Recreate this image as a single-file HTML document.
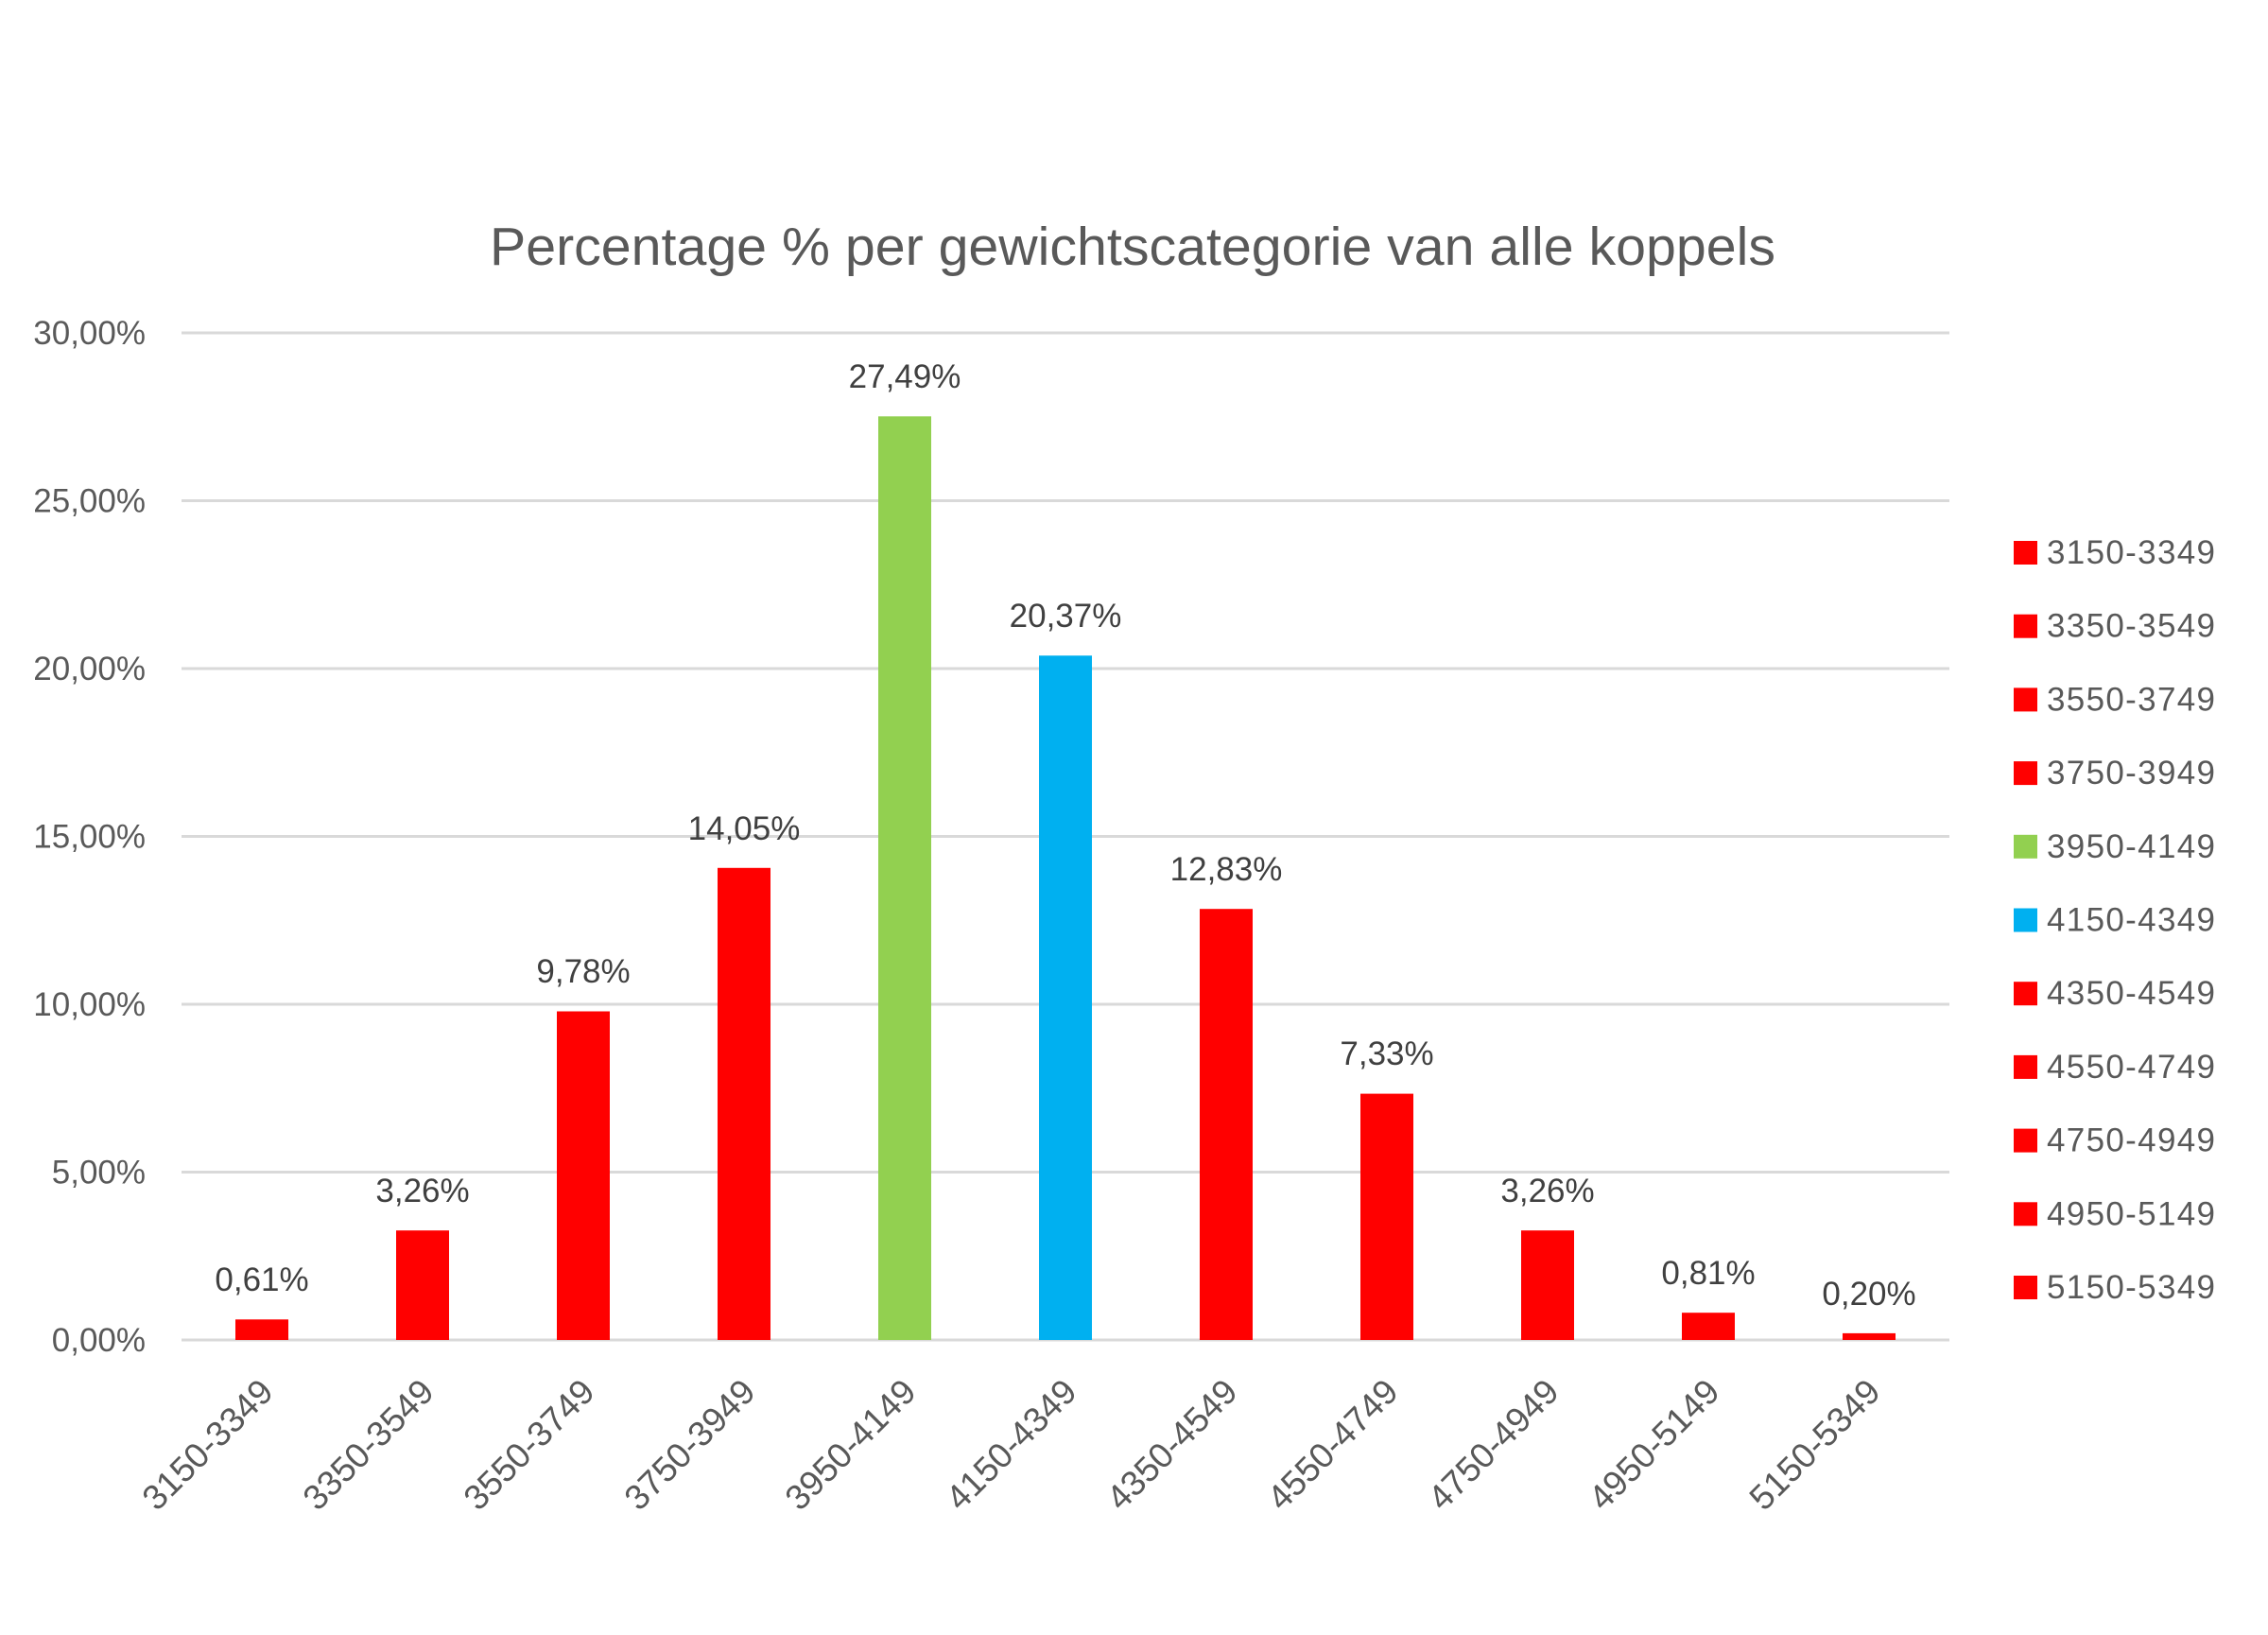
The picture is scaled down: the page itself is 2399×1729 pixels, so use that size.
<!DOCTYPE html>
<html><head><meta charset="utf-8"><style>
html,body{margin:0;padding:0;background:#fff;}
svg{display:block;}
text{font-family:"Liberation Sans",sans-serif;fill:#595959;}
</style></head><body>
<svg width="2399" height="1729" viewBox="0 0 2399 1729" xmlns="http://www.w3.org/2000/svg">
<rect width="2399" height="1729" fill="#fff"/>
<text x="1198" y="280" font-size="57" text-anchor="middle" textLength="1360" lengthAdjust="spacingAndGlyphs">Percentage % per gewichtscategorie van alle koppels</text>
<g stroke="#D9D9D9" stroke-width="3">
<line x1="192" y1="352" x2="2062" y2="352"/>
<line x1="192" y1="529.5" x2="2062" y2="529.5"/>
<line x1="192" y1="707" x2="2062" y2="707"/>
<line x1="192" y1="884.5" x2="2062" y2="884.5"/>
<line x1="192" y1="1062" x2="2062" y2="1062"/>
<line x1="192" y1="1239.5" x2="2062" y2="1239.5"/>
<line x1="192" y1="1417" x2="2062" y2="1417"/>
</g>
<g font-size="35" text-anchor="end">
<text x="154" y="364">30,00%</text>
<text x="154" y="541.5">25,00%</text>
<text x="154" y="719">20,00%</text>
<text x="154" y="896.5">15,00%</text>
<text x="154" y="1074">10,00%</text>
<text x="154" y="1251.5">5,00%</text>
<text x="154" y="1429">0,00%</text>
</g>
<g>
<rect x="249" y="1395.3" width="56" height="21.7" fill="#FF0000"/>
<rect x="419" y="1301.2" width="56" height="115.8" fill="#FF0000"/>
<rect x="589" y="1069.5" width="56" height="347.5" fill="#FF0000"/>
<rect x="759" y="917.8" width="56" height="499.2" fill="#FF0000"/>
<rect x="929" y="440.3" width="56" height="976.7" fill="#92D050"/>
<rect x="1099" y="693.3" width="56" height="723.7" fill="#00B0F0"/>
<rect x="1269" y="961.2" width="56" height="455.8" fill="#FF0000"/>
<rect x="1439" y="1156.6" width="56" height="260.4" fill="#FF0000"/>
<rect x="1609" y="1301.2" width="56" height="115.8" fill="#FF0000"/>
<rect x="1779" y="1388.2" width="56" height="28.8" fill="#FF0000"/>
<rect x="1949" y="1409.9" width="56" height="7.1" fill="#FF0000"/>
</g>
<g font-size="35" text-anchor="middle">
<text x="277" y="1365" style="fill:#404040">0,61%</text>
<text x="447" y="1271" style="fill:#404040">3,26%</text>
<text x="617" y="1039" style="fill:#404040">9,78%</text>
<text x="787" y="888" style="fill:#404040">14,05%</text>
<text x="957" y="410" style="fill:#404040">27,49%</text>
<text x="1127" y="663" style="fill:#404040">20,37%</text>
<text x="1297" y="931" style="fill:#404040">12,83%</text>
<text x="1467" y="1126" style="fill:#404040">7,33%</text>
<text x="1637" y="1271" style="fill:#404040">3,26%</text>
<text x="1807" y="1358" style="fill:#404040">0,81%</text>
<text x="1977" y="1380" style="fill:#404040">0,20%</text>
</g>
<g font-size="37" text-anchor="end">
<text transform="translate(291,1474) rotate(-45)">3150-3349</text>
<text transform="translate(461,1474) rotate(-45)">3350-3549</text>
<text transform="translate(631,1474) rotate(-45)">3550-3749</text>
<text transform="translate(801,1474) rotate(-45)">3750-3949</text>
<text transform="translate(971,1474) rotate(-45)">3950-4149</text>
<text transform="translate(1141,1474) rotate(-45)">4150-4349</text>
<text transform="translate(1311,1474) rotate(-45)">4350-4549</text>
<text transform="translate(1481,1474) rotate(-45)">4550-4749</text>
<text transform="translate(1651,1474) rotate(-45)">4750-4949</text>
<text transform="translate(1821,1474) rotate(-45)">4950-5149</text>
<text transform="translate(1991,1474) rotate(-45)">5150-5349</text>
</g>
<g font-size="35">
<rect x="2130" y="572" width="25" height="25" fill="#FF0000"/><text x="2165" y="596" textLength="178">3150-3349</text>
<rect x="2130" y="649.7" width="25" height="25" fill="#FF0000"/><text x="2165" y="673.7" textLength="178">3350-3549</text>
<rect x="2130" y="727.4" width="25" height="25" fill="#FF0000"/><text x="2165" y="751.4" textLength="178">3550-3749</text>
<rect x="2130" y="805.1" width="25" height="25" fill="#FF0000"/><text x="2165" y="829.1" textLength="178">3750-3949</text>
<rect x="2130" y="882.8" width="25" height="25" fill="#92D050"/><text x="2165" y="906.8" textLength="178">3950-4149</text>
<rect x="2130" y="960.5" width="25" height="25" fill="#00B0F0"/><text x="2165" y="984.5" textLength="178">4150-4349</text>
<rect x="2130" y="1038.2" width="25" height="25" fill="#FF0000"/><text x="2165" y="1062.2" textLength="178">4350-4549</text>
<rect x="2130" y="1115.9" width="25" height="25" fill="#FF0000"/><text x="2165" y="1139.9" textLength="178">4550-4749</text>
<rect x="2130" y="1193.6" width="25" height="25" fill="#FF0000"/><text x="2165" y="1217.6" textLength="178">4750-4949</text>
<rect x="2130" y="1271.3" width="25" height="25" fill="#FF0000"/><text x="2165" y="1295.3" textLength="178">4950-5149</text>
<rect x="2130" y="1349" width="25" height="25" fill="#FF0000"/><text x="2165" y="1373" textLength="178">5150-5349</text>
</g>
</svg>
</body></html>
